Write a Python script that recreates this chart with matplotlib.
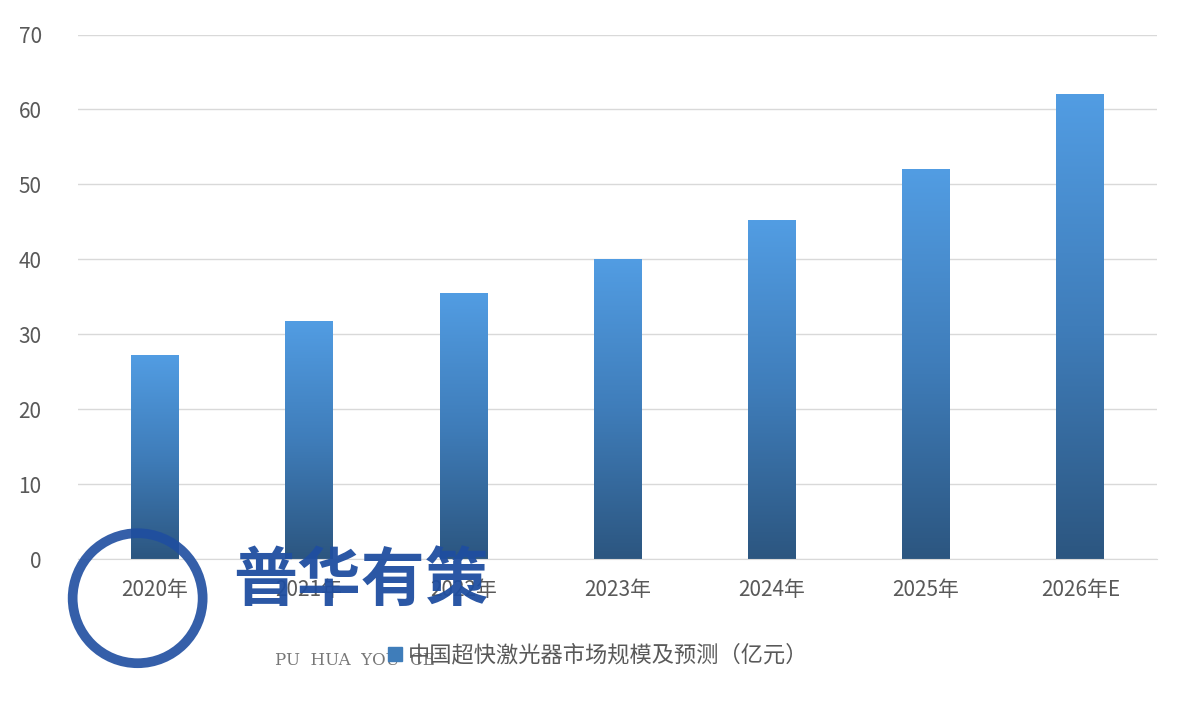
import numpy as np
import matplotlib.pyplot as plt
from matplotlib.colors import LinearSegmentedColormap
from matplotlib.patches import Patch, Ellipse

plt.rcParams['font.family'] = ['Noto Sans CJK SC', 'DejaVu Sans']

years = ['2020年', '2021年', '2022年', '2023年', '2024年', '2025年', '2026年E']
values = [27.3, 31.8, 35.5, 40.1, 45.2, 52.1, 62.1]
series_name = '中国超快激光器市场规模及预测（亿元）'

fig = plt.figure(figsize=(11.97, 7.19), dpi=100)
ax = fig.add_axes([0.065, 0.222, 0.902, 0.73])

cmap = LinearSegmentedColormap.from_list('bar', ['#2c5680', '#3f7dba', '#529de3'])
grad = np.linspace(0, 1, 256).reshape(-1, 1)
x = np.arange(len(years))
w = 0.31
bars = ax.bar(x, values, width=w, color='none', zorder=2)
for b in bars:
    x0, h = b.get_x(), b.get_height()
    im = ax.imshow(grad, extent=[x0, x0 + w, 0, h], origin='lower', cmap=cmap,
                   aspect='auto', zorder=2)
    im.set_clip_path(b)

ax.set_xlim(-0.5, len(years) - 0.5)
ax.set_ylim(0, 70)
ax.set_yticks(range(0, 71, 10))
ax.set_xticks(x)
ax.set_xticklabels(years)
ax.grid(axis='y', color='#d9d9d9', linewidth=1, zorder=0)
for s in ax.spines.values():
    s.set_visible(False)
ax.spines['bottom'].set_visible(True)
ax.spines['bottom'].set_color('#d9d9d9')
ax.tick_params(length=0, labelsize=15, colors='#595959', pad=14)
ax.tick_params(axis='y', pad=26)

fig.legend(handles=[Patch(color='#3f7dba', label=series_name)], loc='lower center',
           bbox_to_anchor=(0.5, 0.045), frameon=False, fontsize=16, handlelength=0.6,
           handleheight=0.6, handletextpad=0.3, labelcolor='#595959')

# watermark (logo from the source image)
fig.text(0.195, 0.165, '普华有策', fontsize=46, color='#1f4ea0', fontweight='bold', alpha=0.95)
fig.text(0.23, 0.075, 'PU  HUA  YOU  CE', fontsize=12, color='#777777', family='DejaVu Serif')
ring = Ellipse((0.115, 0.168), 130 / 1197, 130 / 719, transform=fig.transFigure, fill=False,
               ec='#1f4ea0', lw=7, alpha=0.9)
fig.add_artist(ring)

fig.savefig('out.png', dpi=100)
